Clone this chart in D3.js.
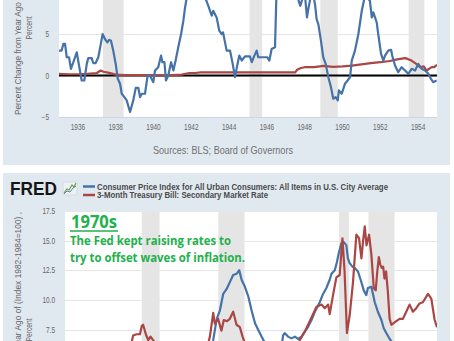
<!DOCTYPE html>
<html>
<head>
<meta charset="utf-8">
<script src="https://cdn.jsdelivr.net/npm/d3@7"></script>
<style>
  body { margin: 0; background: #fff; }
  svg { display: block; font-family: "Liberation Sans", Arial, sans-serif; }
</style>
</head>
<body>
<div id="chart"></div>
<script>
// ---- data (decimal year, value) ----
const topCpi = [[1935.00,3.0],[1935.14,3.0],[1935.23,3.8],[1935.32,3.8],[1935.41,2.2],[1935.53,2.2],[1935.63,0.8],[1935.76,1.6],[1935.94,2.8],[1936.06,1.2],[1936.20,-0.6],[1936.34,-0.6],[1936.47,1.4],[1936.55,2.1],[1936.73,2.1],[1936.81,1.5],[1936.94,1.5],[1937.08,2.2],[1937.22,3.9],[1937.31,5.0],[1937.43,4.4],[1937.56,4.0],[1937.65,4.3],[1937.75,4.2],[1937.87,3.0],[1938.00,1.4],[1938.11,-0.4],[1938.23,-1.0],[1938.32,-2.2],[1938.46,-2.6],[1938.58,-3.0],[1938.76,-4.4],[1938.93,-3.0],[1939.06,-1.5],[1939.20,-1.5],[1939.29,-2.6],[1939.38,-2.2],[1939.55,-2.2],[1939.69,0.0],[1939.81,0.0],[1939.99,-0.8],[1940.08,0.6],[1940.25,1.0],[1940.40,2.4],[1940.47,1.6],[1940.58,1.6],[1940.66,-0.6],[1940.78,0.0],[1940.93,1.6],[1941.05,0.6],[1941.17,1.8],[1941.31,3.4],[1941.46,5.0],[1941.58,6.6],[1941.67,8.2],[1941.83,10.3],[1942.00,11.6],[1942.17,12.3],[1942.35,12.7],[1942.50,11.2],[1942.65,9.6],[1942.80,9.0],[1942.90,8.4],[1943.08,7.2],[1943.16,7.8],[1943.34,7.0],[1943.48,5.4],[1943.60,5.0],[1943.68,5.2],[1943.87,3.0],[1944.05,3.0],[1944.19,1.4],[1944.31,-0.2],[1944.43,1.2],[1944.54,2.4],[1944.67,1.8],[1944.84,2.3],[1945.10,2.3],[1945.20,1.6],[1945.32,2.3],[1945.46,3.0],[1945.54,2.2],[1946.02,2.2],[1946.13,1.8],[1946.25,3.2],[1946.43,3.4],[1946.50,9.5],[1946.62,11.6],[1946.75,12.4],[1946.90,17.5],[1947.05,18.3],[1947.20,19.7],[1947.35,18.0],[1947.55,11.5],[1947.68,9.0],[1947.77,8.4],[1947.92,9.6],[1948.00,10.0],[1948.12,7.0],[1948.19,8.0],[1948.30,9.3],[1948.45,9.8],[1948.55,8.5],[1948.63,6.8],[1948.72,6.2],[1948.86,4.2],[1948.98,2.2],[1949.11,1.4],[1949.25,-0.2],[1949.39,-1.4],[1949.51,-2.8],[1949.64,-2.6],[1949.75,-3.0],[1949.81,-1.8],[1949.96,-2.2],[1950.13,-1.0],[1950.27,-0.6],[1950.40,-0.2],[1950.49,1.8],[1950.66,3.0],[1950.84,5.0],[1951.02,7.8],[1951.15,9.2],[1951.22,9.4],[1951.35,9.3],[1951.45,9.0],[1951.55,7.0],[1951.63,7.6],[1951.72,7.0],[1951.81,6.4],[1951.89,5.0],[1952.04,2.6],[1952.16,1.8],[1952.25,2.4],[1952.42,3.0],[1952.57,3.1],[1952.63,2.4],[1952.78,1.2],[1952.95,0.4],[1953.13,1.0],[1953.31,0.6],[1953.48,0.2],[1953.66,0.8],[1953.84,0.6],[1954.01,1.4],[1954.19,0.8],[1954.37,0.6],[1954.54,0.2],[1954.68,-0.4],[1954.80,-0.8],[1954.98,-0.6]];

const topTbill = [[1935.0,0.2],[1935.5,0.15],[1936.0,0.15],[1936.5,0.2],[1937.0,0.3],[1937.2,0.6],[1937.35,0.45],[1937.6,0.35],[1938.0,0.1],[1938.5,0.05],[1939.0,0.05],[1940.0,0.02],[1941.0,0.05],[1941.5,0.1],[1941.9,0.3],[1942.2,0.3],[1942.5,0.375],[1947.5,0.375],[1947.6,0.7],[1947.8,0.9],[1948.0,1.0],[1948.5,1.0],[1949.0,1.15],[1949.5,1.05],[1950.0,1.1],[1950.5,1.2],[1951.0,1.35],[1951.5,1.5],[1952.0,1.6],[1952.5,1.75],[1952.9,1.95],[1953.3,2.1],[1953.45,2.0],[1953.65,1.8],[1953.9,1.4],[1954.1,1.0],[1954.3,1.1],[1954.45,0.6],[1954.72,1.0],[1954.85,1.0],[1955.0,1.3]];

const botCpi = [[1966.0,1.9],[1966.25,2.9],[1966.5,2.9],[1966.75,3.5],[1967.0,3.4],[1967.5,2.7],[1967.9,3.0],[1968.25,3.9],[1968.5,4.2],[1968.9,4.7],[1969.25,5.3],[1969.5,5.5],[1969.9,6.1],[1970.1,6.2],[1970.5,5.9],[1970.9,5.6],[1971.2,4.5],[1971.5,4.4],[1971.9,3.3],[1972.2,3.4],[1972.5,2.9],[1972.9,3.4],[1973.2,4.7],[1973.4,5.5],[1973.57,6.6],[1973.75,8.4],[1973.91,9.1],[1974.08,10.5],[1974.25,10.9],[1974.42,11.5],[1974.59,12.1],[1974.76,12.2],[1974.9,12.5],[1975.02,11.7],[1975.19,11.1],[1975.36,10.3],[1975.53,9.1],[1975.71,8.0],[1975.86,7.5],[1976.04,6.9],[1976.2,6.4],[1976.5,5.4],[1976.9,4.9],[1977.02,5.6],[1977.14,7.0],[1977.22,7.2],[1977.39,6.9],[1977.57,6.75],[1977.74,6.9],[1977.9,6.7],[1978.08,6.9],[1978.24,7.3],[1978.41,7.7],[1978.59,8.3],[1978.76,9.0],[1979.01,9.8],[1979.18,10.5],[1979.35,11.0],[1979.52,11.7],[1979.61,12.2],[1979.78,12.5],[1979.89,13.2],[1979.99,14.0],[1980.12,14.8],[1980.23,14.9],[1980.37,14.6],[1980.45,13.5],[1980.54,13.1],[1980.68,12.8],[1980.8,12.7],[1980.96,12.4],[1981.1,11.7],[1981.26,10.8],[1981.39,10.4],[1981.47,11.0],[1981.65,11.1],[1981.82,9.8],[1981.98,9.0],[1982.16,8.3],[1982.28,7.6],[1982.41,7.2],[1982.55,6.8],[1982.67,6.5],[1982.9,4.6],[1983.2,3.6],[1983.5,2.5],[1983.9,3.8],[1984.5,4.2],[1985.0,3.5]];

const botTbill = [[1966.0,4.6],[1966.3,4.6],[1966.7,5.2],[1967.0,4.7],[1967.4,3.6],[1967.9,4.9],[1968.4,5.6],[1968.9,5.9],[1969.2,6.0],[1969.4,6.4],[1969.48,7.0],[1969.66,7.1],[1969.83,7.1],[1969.92,7.8],[1969.99,7.9],[1970.13,7.1],[1970.25,6.6],[1970.37,6.9],[1970.5,6.6],[1970.6,6.4],[1970.9,5.0],[1971.2,3.5],[1971.6,5.4],[1971.9,4.0],[1972.2,3.2],[1972.6,4.0],[1972.9,5.0],[1973.2,5.6],[1973.4,6.9],[1973.57,8.9],[1973.65,8.0],[1973.82,8.4],[1973.99,7.4],[1974.11,8.3],[1974.28,8.2],[1974.42,8.4],[1974.59,9.0],[1974.76,7.9],[1974.93,7.7],[1975.07,6.9],[1975.2,6.3],[1975.4,5.2],[1975.7,6.4],[1976.0,4.9],[1976.5,5.2],[1976.9,4.4],[1977.5,5.2],[1977.9,6.1],[1977.99,6.6],[1978.24,7.3],[1978.5,8.2],[1978.84,9.4],[1979.1,9.6],[1979.27,9.3],[1979.44,9.6],[1979.52,8.8],[1979.69,10.4],[1979.86,11.9],[1980.03,12.1],[1980.17,15.2],[1980.28,12.4],[1980.4,7.2],[1980.54,8.7],[1980.71,11.5],[1980.88,15.5],[1981.02,15.2],[1981.14,13.5],[1981.22,14.9],[1981.31,16.2],[1981.4,14.6],[1981.53,15.5],[1981.65,13.8],[1981.77,11.0],[1981.87,10.8],[1981.95,12.4],[1982.03,13.6],[1982.1,13.0],[1982.18,12.7],[1982.25,12.8],[1982.32,11.8],[1982.4,12.4],[1982.49,10.7],[1982.58,8.4],[1982.67,7.9],[1982.75,8.0],[1982.92,8.2],[1983.09,8.4],[1983.26,8.4],[1983.43,9.0],[1983.6,9.6],[1983.77,9.0],[1983.94,9.3],[1984.11,9.7],[1984.28,9.8],[1984.54,10.5],[1984.71,10.1],[1984.88,8.3],[1985.0,7.7]];

// recessions (start, end)
const topRecessions = [[1937.33,1938.42],[1945.08,1945.75],[1948.83,1949.75],[1953.5,1954.33]];
const botRecessions = [[1969.92,1970.83],[1973.83,1975.17],[1980.0,1980.5],[1981.5,1982.83]];

// ticks
const topXTicks = [1936,1938,1940,1942,1944,1946,1948,1950,1952,1954];
const topYTicks = [-5,0,5,10,15,20];
const botYTicks = [-2.5,0,2.5,5,7.5,10,12.5,15,17.5];

const legendLabels = ["Consumer Price Index for All Urban Consumers: All Items in U.S. City Average",
                      "3-Month Treasury Bill: Secondary Market Rate"];

// ---- drawing ----
const W = 454, H = 341;
const blue = "#4572a7", red = "#aa4643", panelBg = "#e1e9f0", grid = "#e6e6e6",
      recess = "#e5e5e5", green = "#22b14c", tickCol = "#666";
const hs = 0.78; // the screenshot is squeezed horizontally

const svg = d3.select("#chart").append("svg").attr("width", W).attr("height", H);
const defs = svg.append("defs");

// helper: horizontally squeezed text
function sqText(g, x, y, str, size, anchor, fill) {
  return g.append("text")
    .attr("transform", `translate(${x},${y}) scale(${hs},1)`)
    .attr("text-anchor", anchor)
    .attr("font-size", size)
    .attr("fill", fill)
    .text(str);
}
const visible = y => y > 6 && y < H - 2;

// ===== top chart =====
const tp = { l: 59, r: 437, b: 117 };
const topX = d3.scaleLinear().domain([1935, 1955]).range([tp.l, tp.r]);
const topY = d3.scaleLinear().domain([-5, 20]).range([tp.b, tp.b - 25 * 8.3]);

svg.append("rect").attr("x", 3).attr("y", -10).attr("width", 447).attr("height", 175).attr("fill", panelBg);
svg.append("rect").attr("x", tp.l).attr("y", topY(20)).attr("width", tp.r - tp.l)
  .attr("height", tp.b - topY(20)).attr("fill", "#fff");

defs.append("clipPath").attr("id", "clipTop").append("rect")
  .attr("x", tp.l).attr("y", topY(20)).attr("width", tp.r - tp.l).attr("height", tp.b - topY(20));

const gTop = svg.append("g");
gTop.selectAll(".rec").data(topRecessions).join("rect")
  .attr("x", d => topX(d[0])).attr("width", d => topX(d[1]) - topX(d[0]))
  .attr("y", topY(20)).attr("height", tp.b - topY(20)).attr("fill", recess);

gTop.selectAll(".grid").data(topYTicks).join("line")
  .attr("x1", tp.l).attr("x2", tp.r)
  .attr("y1", d => Math.round(topY(d)) + 0.5).attr("y2", d => Math.round(topY(d)) + 0.5)
  .attr("stroke", grid);

gTop.append("line").attr("x1", tp.l).attr("x2", tp.r).attr("y1", tp.b + 0.5).attr("y2", tp.b + 0.5)
  .attr("stroke", "#ccd6eb");

gTop.append("line").attr("x1", tp.l).attr("x2", tp.r).attr("y1", topY(0)).attr("y2", topY(0))
  .attr("stroke", "#000").attr("stroke-width", 1.8);

const lineTop = d3.line().x(d => topX(d[0])).y(d => topY(d[1]));
const gTopSeries = gTop.append("g").attr("clip-path", "url(#clipTop)");
gTopSeries.append("path").datum(topTbill).attr("d", lineTop)
  .attr("fill", "none").attr("stroke", red).attr("stroke-width", 2.2).attr("stroke-linejoin", "round");
gTopSeries.append("path").datum(topCpi).attr("d", lineTop)
  .attr("fill", "none").attr("stroke", blue).attr("stroke-width", 2.2).attr("stroke-linejoin", "round");

topXTicks.forEach(t => sqText(gTop, topX(t), 130, t, 8.3, "middle", tickCol));
topYTicks.filter(t => visible(topY(t))).forEach(t => sqText(gTop, 49, topY(t) + 3, d3.format("d")(t), 8.3, "end", tickCol));

gTop.append("text")
  .attr("transform", "translate(20.5,115) rotate(-90)")
  .attr("text-anchor", "start").attr("font-size", 8.2).attr("fill", tickCol)
  .text("Percent Change from Year Ago of (Index 1982-1984=100) ,");
gTop.append("text")
  .attr("transform", "translate(31.5,28) rotate(-90)")
  .attr("text-anchor", "middle").attr("font-size", 8.8).attr("fill", tickCol)
  .attr("textLength", 23).attr("lengthAdjust", "spacingAndGlyphs")
  .text("Percent");

gTop.append("text").attr("x", 153).attr("y", 154).attr("font-size", 11).attr("fill", "#707070")
  .attr("textLength", 140).attr("lengthAdjust", "spacingAndGlyphs")
  .text("Sources: BLS; Board of Governors");

// ===== bottom chart =====
const bp = { l: 65, r: 437, t: 211 };
const botX = d3.scaleLinear().domain([1966, 1985]).range([bp.l, bp.r]);
const botY = d3.scaleLinear().domain([-2.5, 17.5]).range([bp.t + 20 * 11.85, bp.t]);

svg.append("rect").attr("x", 3).attr("y", 173).attr("width", 447).attr("height", 200).attr("fill", panelBg);
svg.append("rect").attr("x", bp.l).attr("y", bp.t).attr("width", bp.r - bp.l)
  .attr("height", botY(-2.5) - bp.t).attr("fill", "#fff");

defs.append("clipPath").attr("id", "clipBot").append("rect")
  .attr("x", bp.l).attr("y", bp.t).attr("width", bp.r - bp.l).attr("height", botY(-2.5) - bp.t);

const gBot = svg.append("g");
gBot.selectAll(".rec").data(botRecessions).join("rect")
  .attr("x", d => botX(d[0])).attr("width", d => botX(d[1]) - botX(d[0]))
  .attr("y", bp.t).attr("height", botY(-2.5) - bp.t).attr("fill", recess);

gBot.selectAll(".grid").data(botYTicks).join("line")
  .attr("x1", bp.l).attr("x2", bp.r)
  .attr("y1", d => Math.round(botY(d)) + 0.5).attr("y2", d => Math.round(botY(d)) + 0.5)
  .attr("stroke", grid);

const lineBot = d3.line().x(d => botX(d[0])).y(d => botY(d[1]));
const gBotSeries = gBot.append("g").attr("clip-path", "url(#clipBot)");
gBotSeries.append("path").datum(botCpi).attr("d", lineBot)
  .attr("fill", "none").attr("stroke", blue).attr("stroke-width", 2.2).attr("stroke-linejoin", "round");
gBotSeries.append("path").datum(botTbill).attr("d", lineBot)
  .attr("fill", "none").attr("stroke", red).attr("stroke-width", 2.2).attr("stroke-linejoin", "round");

botYTicks.filter(t => visible(botY(t))).forEach(t => sqText(gBot, 55, botY(t) + 3, d3.format(".1f")(t), 8.3, "end", tickCol));

gBot.append("text")
  .attr("transform", "translate(20.5,212) rotate(-90)")
  .attr("text-anchor", "end").attr("font-size", 8.4).attr("fill", tickCol)
  .text("Percent Change from Year Ago of (Index 1982-1984=100) ,");
gBot.append("text")
  .attr("transform", "translate(31.5,330) rotate(-90)")
  .attr("text-anchor", "middle").attr("font-size", 8.8).attr("fill", tickCol)
  .attr("textLength", 23).attr("lengthAdjust", "spacingAndGlyphs")
  .text("Percent");

// FRED logo
gBot.append("text").attr("x", 10).attr("y", 195).attr("font-size", 19).attr("font-weight", 900)
  .attr("fill", "#151515").attr("textLength", 47).attr("lengthAdjust", "spacingAndGlyphs")
  .text("FRED");
gBot.append("rect").attr("x", 63).attr("y", 182).attr("width", 14).attr("height", 13)
  .attr("fill", "#eef1f3").attr("stroke", "#c9d0d6").attr("stroke-width", 0.6);
gBot.append("polyline").attr("points", "64,193 67,189 69,190 72,185 74,187 76,183")
  .attr("fill", "none").attr("stroke", "#6fa04d").attr("stroke-width", 1.2);
gBot.append("polyline").attr("points", "64,194 67,191 70,192 73,188 76,186")
  .attr("fill", "none").attr("stroke", "#5b86b8").attr("stroke-width", 1);

// legend
const legY = [186.5, 195];
const legW = [291, 171];
[blue, red].forEach((c, i) => {
  gBot.append("line").attr("x1", 83).attr("x2", 95).attr("y1", legY[i]).attr("y2", legY[i])
    .attr("stroke", c).attr("stroke-width", 2.5);
  gBot.append("text").attr("x", 97).attr("y", legY[i] + 3).attr("font-size", 8.6)
    .attr("font-weight", "bold").attr("fill", "#4a4a4a")
    .attr("textLength", legW[i]).attr("lengthAdjust", "spacingAndGlyphs")
    .text(legendLabels[i]);
});

// annotation
const ann = gBot.append("g").attr("font-family", "'Open Sans', sans-serif").attr("font-weight", "bold").attr("fill", green);
ann.append("text").attr("x", 71).attr("y", 228).attr("font-size", 18)
  .attr("textLength", 46).attr("lengthAdjust", "spacingAndGlyphs").text("1970s");
ann.append("line").attr("x1", 70).attr("x2", 118).attr("y1", 231).attr("y2", 231)
  .attr("stroke", green).attr("stroke-width", 1.6);
ann.append("text").attr("x", 70).attr("y", 245).attr("font-size", 12.5)
  .attr("textLength", 161).attr("lengthAdjust", "spacingAndGlyphs").text("The Fed kept raising rates to");
ann.append("text").attr("x", 70).attr("y", 262).attr("font-size", 12.5)
  .attr("textLength", 175).attr("lengthAdjust", "spacingAndGlyphs").text("try to offset waves of inflation.");
</script>
</body>
</html>
